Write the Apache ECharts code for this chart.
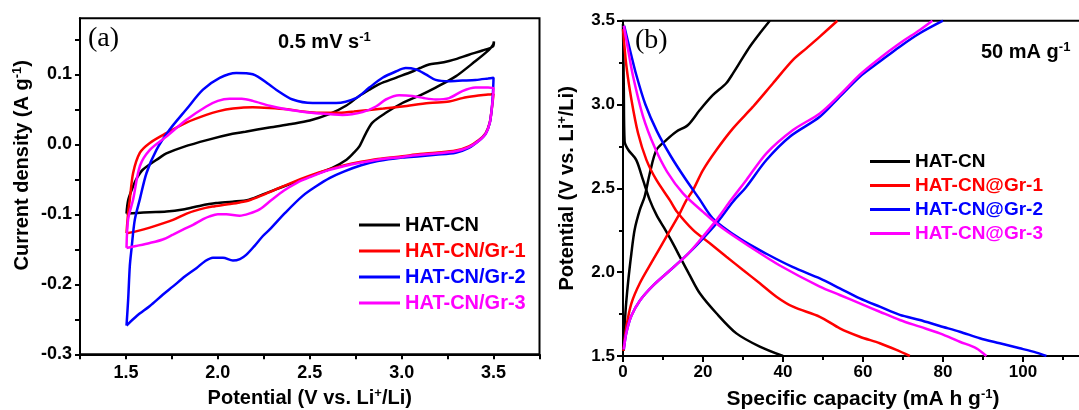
<!DOCTYPE html>
<html>
<head>
<meta charset="utf-8">
<script src="https://cdn.jsdelivr.net/npm/echarts@6/dist/echarts.min.js"></script>
<style>
html, body { margin: 0; padding: 0; background: #fff; }
#main { width: 1079px; height: 410px; }
</style>
</head>
<body>
<div id="main"></div>
<script>
// (a) cyclic voltammetry, [potential V, current A/g], traced round each loop
var cvHatCn = [
  [1.503,-0.099],[1.56,-0.098],[1.63,-0.097],[1.72,-0.096],[1.81,-0.093],[1.90,-0.088],[1.99,-0.084],
  [2.08,-0.082],[2.17,-0.079],[2.26,-0.070],[2.35,-0.061],[2.44,-0.052],[2.53,-0.043],[2.62,-0.034],
  [2.70,-0.022],[2.74,-0.012],[2.77,-0.003],[2.806,0.016],[2.841,0.031],[2.914,0.045],[3.004,0.059],
  [3.10,0.070],[3.185,0.081],[3.294,0.097],[3.402,0.119],[3.475,0.135],[3.497,0.142],[3.502,0.147],
  [3.497,0.140],[3.44,0.134],[3.366,0.128],[3.30,0.122],[3.258,0.119],[3.203,0.116],[3.149,0.114],
  [3.10,0.109],[3.059,0.104],[2.968,0.095],[2.878,0.086],[2.824,0.078],[2.769,0.069],[2.697,0.055],
  [2.606,0.043],[2.50,0.034],[2.40,0.029],[2.28,0.024],[2.15,0.018],[2.08,0.015],[1.94,0.006],
  [1.81,-0.004],[1.72,-0.013],[1.684,-0.019],[1.593,-0.036],[1.56,-0.048],[1.539,-0.060],
  [1.512,-0.080],[1.503,-0.099]
];
var cvGr1 = [
  [1.503,-0.127],[1.56,-0.124],[1.63,-0.119],[1.756,-0.108],[1.83,-0.099],[1.901,-0.093],[1.97,-0.089],
  [2.046,-0.086],[2.12,-0.083],[2.172,-0.080],[2.24,-0.073],[2.31,-0.065],[2.40,-0.055],[2.50,-0.045],
  [2.59,-0.037],[2.69,-0.030],[2.78,-0.025],[2.87,-0.021],[3.004,-0.017],[3.10,-0.014],[3.185,-0.012],
  [3.294,-0.009],[3.366,-0.003],[3.42,0.006],[3.457,0.016],[3.479,0.031],[3.49,0.050],[3.497,0.065],
  [3.5,0.072],[3.47,0.071],[3.40,0.069],[3.33,0.066],[3.258,0.061],[3.149,0.059],[3.004,0.054],
  [2.90,0.051],[2.824,0.049],[2.74,0.047],[2.643,0.045],[2.55,0.045],[2.462,0.047],[2.38,0.050],
  [2.281,0.052],[2.19,0.053],[2.082,0.051],[2.0,0.047],[1.937,0.042],[1.829,0.031],[1.72,0.016],
  [1.63,0.002],[1.576,-0.012],[1.539,-0.041],[1.521,-0.079],[1.512,-0.098],[1.503,-0.127]
];
var cvGr2 = [
  [1.503,-0.259],[1.56,-0.245],[1.63,-0.231],[1.70,-0.215],[1.756,-0.203],[1.82,-0.189],[1.883,-0.177],
  [1.93,-0.167],[1.973,-0.162],[2.028,-0.162],[2.082,-0.166],[2.12,-0.164],[2.154,-0.158],[2.20,-0.145],
  [2.245,-0.131],[2.281,-0.122],[2.366,-0.098],[2.46,-0.074],[2.535,-0.060],[2.61,-0.048],[2.685,-0.039],
  [2.78,-0.030],[2.87,-0.024],[3.004,-0.019],[3.10,-0.017],[3.185,-0.015],[3.294,-0.012],[3.366,-0.005],
  [3.42,0.005],[3.457,0.015],[3.479,0.030],[3.49,0.050],[3.497,0.075],[3.5,0.095],[3.47,0.094],
  [3.402,0.092],[3.33,0.091],[3.258,0.090],[3.185,0.092],[3.131,0.100],[3.077,0.107],[3.022,0.109],
  [2.968,0.104],[2.896,0.095],[2.824,0.081],[2.751,0.066],[2.643,0.059],[2.516,0.059],[2.407,0.064],
  [2.317,0.078],[2.281,0.085],[2.19,0.100],[2.10,0.102],[2.01,0.095],[1.919,0.078],[1.829,0.050],
  [1.738,0.021],[1.666,-0.008],[1.612,-0.041],[1.576,-0.078],[1.548,-0.108],[1.53,-0.150],
  [1.521,-0.174],[1.512,-0.222],[1.503,-0.259]
];
var cvGr3 = [
  [1.503,-0.148],[1.56,-0.145],[1.63,-0.141],[1.70,-0.136],[1.756,-0.129],[1.81,-0.122],[1.865,-0.115],
  [1.92,-0.107],[1.955,-0.103],[2.0,-0.100],[2.046,-0.100],[2.118,-0.102],[2.17,-0.099],[2.227,-0.093],
  [2.29,-0.080],[2.36,-0.066],[2.43,-0.055],[2.50,-0.047],[2.59,-0.038],[2.69,-0.031],[2.78,-0.026],
  [2.87,-0.022],[3.004,-0.018],[3.10,-0.015],[3.185,-0.013],[3.294,-0.010],[3.366,-0.004],[3.42,0.005],
  [3.457,0.015],[3.479,0.030],[3.49,0.050],[3.497,0.068],[3.5,0.080],[3.47,0.081],[3.402,0.081],
  [3.33,0.076],[3.258,0.066],[3.185,0.064],[3.12,0.066],[3.059,0.069],[2.986,0.070],[2.914,0.064],
  [2.86,0.054],[2.787,0.046],[2.679,0.042],[2.552,0.044],[2.45,0.047],[2.371,0.050],[2.281,0.055],
  [2.19,0.062],[2.13,0.065],[2.064,0.065],[2.0,0.062],[1.937,0.054],[1.829,0.035],[1.72,0.011],
  [1.63,-0.008],[1.576,-0.031],[1.539,-0.079],[1.512,-0.107],[1.503,-0.148]
];

// (b) charge / discharge, [capacity mA h/g, potential V]
var gcdHatCnCharge = [
  [0.1,1.53],[0.6,1.755],[1.25,1.934],[2.1,2.113],[2.9,2.252],[4.2,2.371],[5.4,2.45],[6.7,2.59],
  [8.35,2.729],[10.8,2.788],[13.3,2.838],[16.25,2.878],[19.2,2.967],[22.5,3.057],[25.8,3.127],
  [27.5,3.186],[29.6,3.266],[31.7,3.345],[34.2,3.425],[36.7,3.5]
];
var gcdHatCnDischarge = [
  [0,3.48],[0.2,3.1],[0.4,2.78],[1.3,2.73],[3.3,2.67],[5,2.55],[6.7,2.43],[8.4,2.34],[10.25,2.265],
  [12.5,2.17],[14.7,2.07],[16.5,1.99],[19.2,1.874],[23.35,1.755],[28.35,1.635],[34.2,1.556],[40,1.5]
];
var gcdGr1Charge = [
  [0.1,1.53],[0.85,1.675],[2.1,1.814],[4.2,1.934],[7.5,2.073],[10.85,2.212],[14.2,2.351],[15.85,2.43],
  [17.5,2.49],[20,2.609],[23.35,2.729],[27.5,2.858],[32.5,2.987],[37.5,3.127],[42.5,3.266],
  [45.85,3.335],[49.2,3.405],[53.6,3.5]
];
var gcdGr1Discharge = [
  [0,3.45],[0.85,3.23],[2.1,3.03],[3.75,2.83],[5.85,2.67],[8.35,2.55],[11.7,2.43],[13.5,2.36],
  [17.5,2.252],[21.7,2.172],[25.85,2.092],[30,2.013],[34.2,1.934],[38.35,1.854],[42.5,1.794],
  [49.2,1.734],[54.2,1.665],[59.2,1.615],[64.2,1.576],[68.35,1.536],[71.7,1.5]
];
var gcdGr2Charge = [
  [0.2,1.54],[0.85,1.64],[2.1,1.74],[4.2,1.83],[7.5,1.92],[11.7,2.01],[15.85,2.1],[19.2,2.18],
  [23.35,2.29],[27.5,2.42],[30.85,2.51],[35.85,2.669],[41.7,2.808],[49.2,2.927],[54.2,3.047],
  [59.2,3.166],[64.2,3.256],[69.2,3.345],[74.2,3.425],[80,3.5]
];
var gcdGr2Discharge = [
  [0.3,3.47],[1.7,3.33],[3.4,3.17],[5.6,3.0],[8.5,2.84],[12,2.69],[15.5,2.56],[19,2.44],[22.5,2.32],
  [29.2,2.20],[35.85,2.11],[42.5,2.03],[49.2,1.963],[54.2,1.904],[59.2,1.844],[64.2,1.794],
  [69.2,1.745],[74.2,1.715],[79.2,1.679],[84.2,1.645],[89.2,1.606],[94.2,1.576],[99.2,1.546],
  [103.35,1.52],[105.85,1.5]
];
var gcdGr3Charge = [
  [0.2,1.54],[0.85,1.64],[2.1,1.74],[4.2,1.83],[7.5,1.92],[11.7,2.01],[15.85,2.1],[19.2,2.19],
  [23,2.30],[27,2.43],[30.85,2.55],[35.85,2.709],[42.5,2.848],[49.2,2.947],[54.2,3.057],
  [59.2,3.178],[64.2,3.276],[69.2,3.365],[74.2,3.445],[77.35,3.5]
];
var gcdGr3Discharge = [
  [0.2,3.47],[1.25,3.33],[2.5,3.17],[5,2.93],[8,2.74],[11,2.6],[15,2.47],[20,2.36],[25,2.26],
  [32.5,2.14],[39.2,2.04],[49.2,1.914],[54.2,1.864],[59.2,1.814],[64.2,1.764],[69.2,1.715],
  [74.2,1.675],[79.2,1.635],[84.2,1.585],[88.35,1.546],[90.85,1.5]
];

var namesA = ['HAT-CN', 'HAT-CN/Gr-1', 'HAT-CN/Gr-2', 'HAT-CN/Gr-3'];
var namesB = ['HAT-CN', 'HAT-CN@Gr-1', 'HAT-CN@Gr-2', 'HAT-CN@Gr-3'];
var colors = ['#000000', '#ff0000', '#0000ff', '#ff00ff'];
var cvYTicks = [-0.3,-0.25,-0.2,-0.15,-0.1,-0.05,0,0.05,0.1,0.15];
var cvYLabels = [-0.3, -0.2, -0.1, 0, 0.1];

var FONT = 'Arial, "Liberation Sans", sans-serif';
var sup = { fontSize: 13, fontWeight: 'bold', fontFamily: FONT, color: '#000', padding: [0, 0, 10, 0] };
var nameStyle = { fontSize: 20, fontWeight: 'bold', fontFamily: FONT, color: '#000', rich: { sup: sup } };
var axisLineStyle = { color: '#000', width: 2 };

function line(name, data, color, xi) {
  return {
    name: name, type: 'line', xAxisIndex: xi, yAxisIndex: xi, data: data,
    showSymbol: false, symbol: 'none', smooth: 0.3, z: 3,
    lineStyle: { color: color, width: 2.5 }, itemStyle: { color: color }
  };
}

var myChart = echarts.init(document.getElementById('main'));

option = {
  animation: false,
  backgroundColor: '#fff',
  title: [
    { text: '(a)', left: 88, top: 25, padding: 0,
      textStyle: { fontFamily: '"Liberation Serif", "Times New Roman", serif', fontSize: 28, fontWeight: 'normal', color: '#000' } },
    { text: '0.5 mV s{sup|-1}', left: 278, top: 31, padding: 0,
      textStyle: { fontFamily: FONT, fontSize: 20, fontWeight: 'bold', color: '#000', rich: { sup: sup } } },
    { text: '(b)', left: 635, top: 27, padding: 0,
      textStyle: { fontFamily: '"Liberation Serif", "Times New Roman", serif', fontSize: 28, fontWeight: 'normal', color: '#000' } },
    { text: '50 mA g{sup|-1}', left: 981, top: 41, padding: 0,
      textStyle: { fontFamily: FONT, fontSize: 20, fontWeight: 'bold', color: '#000', rich: { sup: sup } } }
  ],
  legend: [
    { orient: 'vertical', left: 359, top: 215, padding: 0, itemGap: 6, itemWidth: 41, itemHeight: 3,
      icon: 'rect', selectedMode: false,
      textStyle: { fontFamily: FONT, fontSize: 20, fontWeight: 'bold' },
      data: namesA.map(function (n, i) { return { name: n, textStyle: { color: colors[i] } }; }) },
    { orient: 'vertical', left: 870, top: 152, padding: 0, itemGap: 5, itemWidth: 40, itemHeight: 3,
      icon: 'rect', selectedMode: false,
      textStyle: { fontFamily: FONT, fontSize: 19, fontWeight: 'bold' },
      data: namesB.map(function (n, i) { return { name: n, textStyle: { color: colors[i] } }; }) }
  ],
  grid: [
    { left: 80, right: 539.5, top: 18.3, bottom: 55.7, outerBoundsMode: 'none', containLabel: false,
      show: true, borderColor: '#000', borderWidth: 2 },
    { left: 623, right: -24, top: 20.7, bottom: 54, outerBoundsMode: 'none', containLabel: false,
      show: true, borderColor: '#000', borderWidth: 2 }
  ],
  xAxis: [
    { gridIndex: 0, type: 'value', min: 1.25, max: 3.75, interval: 0.25,
      axisLine: { onZero: false, lineStyle: axisLineStyle },
      axisTick: { length: 5, lineStyle: { color: '#000', width: 2 } },
      axisLabel: { margin: 10, fontFamily: FONT, fontSize: 18, fontWeight: 'bold', color: '#000',
        formatter: function (v) { return Math.abs(v * 2 - Math.round(v * 2)) < 1e-6 && v > 1.3 && v < 3.7 ? v.toFixed(1) : ''; } },
      splitLine: { show: false },
      name: 'Potential (V vs. Li{sup|+}/Li)', nameLocation: 'middle', nameGap: 33, nameTextStyle: nameStyle },
    { gridIndex: 1, type: 'value', min: 0, max: 120, interval: 20,
      axisLine: { onZero: false, lineStyle: axisLineStyle },
      axisTick: { length: 6, lineStyle: { color: '#000', width: 2 } },
      minorTick: { show: true, splitNumber: 2, length: 4, lineStyle: { color: '#000', width: 2 } },
      axisLabel: { margin: 8, fontFamily: FONT, fontSize: 17, fontWeight: 'bold', color: '#000',
        formatter: function (v) { return v > 100 ? '' : String(v); } },
      splitLine: { show: false },
      name: 'Specific capacity (mA h g{sup|-1})', nameLocation: 'middle', nameGap: 32,
      nameTextStyle: Object.assign({}, nameStyle, { fontSize: 21 }) }
  ],
  yAxis: [
    { gridIndex: 0, type: 'value', min: -0.3, max: 0.18,
      axisLine: { onZero: false, lineStyle: axisLineStyle },
      axisTick: { length: 5, customValues: cvYTicks, lineStyle: { color: '#000', width: 2 } },
      axisLabel: { margin: 8, fontFamily: FONT, fontSize: 18, fontWeight: 'bold', color: '#000',
        customValues: cvYLabels,
        formatter: function (v) { return v.toFixed(1); } },
      splitLine: { show: false },
      name: 'Current density (A g{sup|-1})', nameLocation: 'middle', nameGap: 46,
      nameTextStyle: Object.assign({}, nameStyle, { padding: [0, 0, 0, 42] }) },
    { gridIndex: 1, type: 'value', min: 1.5, max: 3.5, interval: 0.5,
      axisLine: { onZero: false, lineStyle: axisLineStyle },
      axisTick: { length: 6, lineStyle: { color: '#000', width: 2 } },
      minorTick: { show: true, splitNumber: 2, length: 4, lineStyle: { color: '#000', width: 2 } },
      axisLabel: { margin: 8, fontFamily: FONT, fontSize: 17, fontWeight: 'bold', color: '#000',
        formatter: function (v) { return v.toFixed(1); } },
      splitLine: { show: false },
      name: 'Potential (V vs. Li{sup|+}/Li)', nameLocation: 'middle', nameGap: 44, nameTextStyle: nameStyle }
  ],
  series: [
    line(namesA[0], cvHatCn, colors[0], 0),
    line(namesA[1], cvGr1, colors[1], 0),
    line(namesA[2], cvGr2, colors[2], 0),
    line(namesA[3], cvGr3, colors[3], 0),
    line(namesB[0], gcdHatCnCharge, colors[0], 1),
    line(namesB[0], gcdHatCnDischarge, colors[0], 1),
    line(namesB[1], gcdGr1Charge, colors[1], 1),
    line(namesB[1], gcdGr1Discharge, colors[1], 1),
    line(namesB[2], gcdGr2Charge, colors[2], 1),
    line(namesB[2], gcdGr2Discharge, colors[2], 1),
    line(namesB[3], gcdGr3Charge, colors[3], 1),
    line(namesB[3], gcdGr3Discharge, colors[3], 1)
  ]
};
myChart.setOption(option);
</script>
</body>
</html>
